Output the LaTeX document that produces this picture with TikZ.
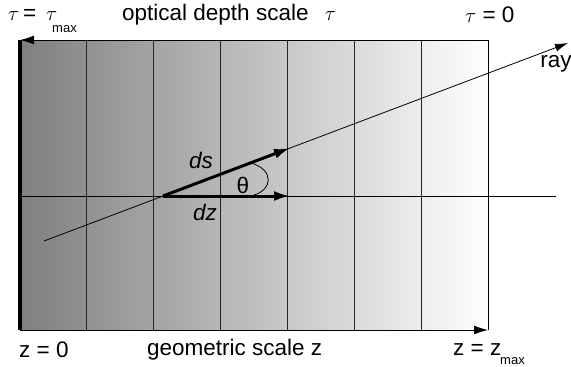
\documentclass[tikz,border=0pt]{standalone}
\usepackage{fontspec}
\setmainfont{Liberation Sans}
\usetikzlibrary{arrows.meta}
\begin{document}
\begin{tikzpicture}[x=1pt,y=-1pt,line cap=butt,line join=miter,
  lbl/.style={font=\fontsize{22.5}{26}\selectfont,inner sep=0pt},
  sublbl/.style={font=\fontsize{13}{15}\selectfont,inner sep=0pt},
  thin line/.style={line width=0.8pt},
  vec/.style={line width=3pt,-{Latex[length=16pt,width=10pt]}},
  axis/.style={line width=1pt,-{Latex[length=14pt,width=9pt]}}]
  \useasboundingbox (0,0) rectangle (571,367);
  % slab corners
  \coordinate (tl) at (20,40);
  \coordinate (tr) at (488,40);
  \coordinate (bl) at (20,330);
  \coordinate (br) at (488,330);
  \shade[left color=black!50,right color=white] (tl) rectangle (br);
  \foreach \i in {1,...,6}
    \draw[thin line,black!85] ({20+\i*66.86},40) -- ({20+\i*66.86},330);
  \draw[thin line] (tr) -- (br);
  \draw[axis] (tr) -- (tl);
  \draw[axis] (bl) -- (br);
  \draw[line width=3.5pt] (tl) -- (bl);
  % normal and ray
  \coordinate (nl) at (20,196);
  \coordinate (nr) at (556,196);
  \draw[thin line] (nl) -- (nr);
  \coordinate (ray0) at (44,241);
  \coordinate (ray1) at (568,43);
  \draw[thin line,-{Latex[length=13pt,width=8pt]}] (ray0) -- (ray1);
  % path elements
  \coordinate (o) at (163,196);
  \coordinate (ds) at (290,148);
  \coordinate (dz) at (290,196);
  \draw[vec] (o) -- (ds);
  \draw[vec] (o) -- (dz);
  \coordinate (a0) at (251,163);
  \coordinate (a1) at (254,195);
  \draw[thin line] (a0) .. controls (275,170) and (272,190) .. (a1);
  % labels
  \node[lbl] (lds) at (201,160) {\textit{ds}};
  \node[lbl] (lth) at (243,185) {θ};
  \node[lbl] (ldz) at (205,212) {\textit{dz}};
  \node[lbl] (lray) at (556,64) {ray};
  \node[lbl,anchor=west] (ltmax) at (8,15) {$\tau$\,= \,$\tau$};
  \node[sublbl,anchor=west] (ltmaxsub) at (52,29) {max};
  \node[lbl,anchor=west] (lopt) at (122,15) {optical depth scale \hspace{10pt}$\tau$};
  \node[lbl,anchor=west] (ltau0) at (465,15) {$\tau$ = 0};
  \node[lbl,anchor=west] (lz0) at (19,350) {z = 0};
  \node[lbl,anchor=west] (lgeo) at (147,350) {geometric scale z};
  \node[lbl,anchor=west] (lzmax) at (453,350) {z = z};
  \node[sublbl,anchor=west] (lzmaxsub) at (500,361) {max};
\end{tikzpicture}
\end{document}
